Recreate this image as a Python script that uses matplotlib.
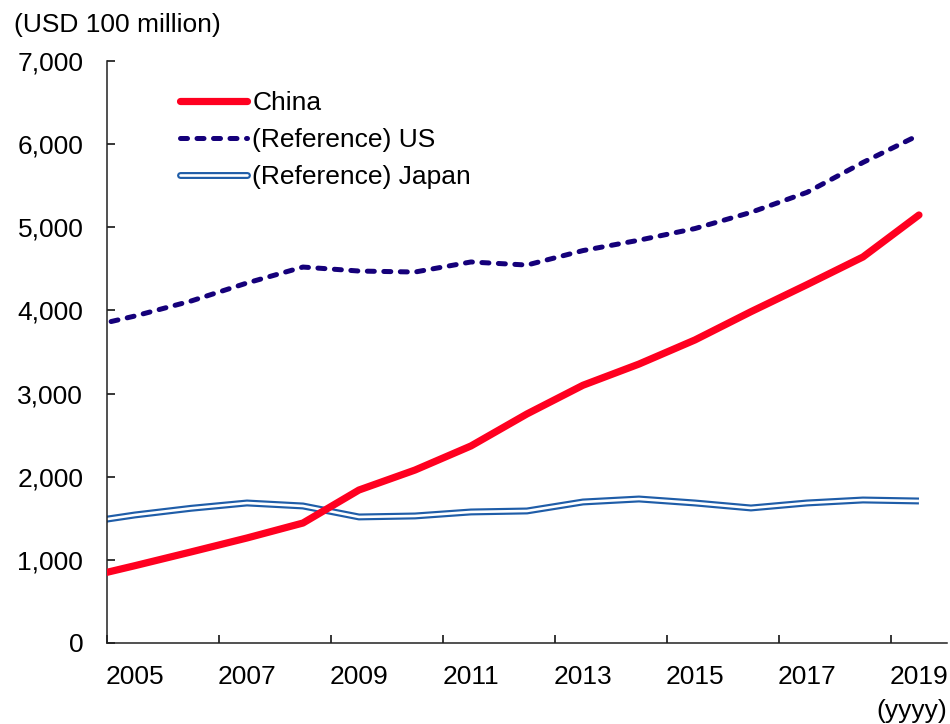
import numpy as np
import matplotlib
matplotlib.use("Agg")
import matplotlib.pyplot as plt
from matplotlib.ticker import FixedLocator, StrMethodFormatter
from matplotlib.lines import Line2D
from matplotlib.legend_handler import HandlerTuple

plt.rcParams['font.family'] = ['Liberation Sans', 'DejaVu Sans']

# annual values, USD 100 million (first year only partly on the axis)
years = np.arange(2004, 2020)
china = [770, 930, 1095, 1263, 1443, 1840, 2080, 2370, 2755, 3100,
         3355, 3645, 3985, 4310, 4643, 5148]
us = [3777, 3933, 4113, 4330, 4522, 4474, 4462, 4583, 4546, 4720,
      4845, 4985, 5180, 5420, 5780, 6110]
japan = [1440, 1540, 1620, 1684, 1648, 1516, 1528, 1576, 1588, 1696,
         1732, 1684, 1624, 1684, 1720, 1708]

red = '#FF0020'
navy = '#15007A'
blue = '#1F5DA8'
fs = 19

fig = plt.figure(figsize=(9.5, 7.24), dpi=100)
ax = fig.add_axes([0.1126, 0.1119, 0.8842, 0.8038])

# Japan: outlined double line
ax.plot(years, japan, color=blue, lw=5.0, solid_capstyle='butt', zorder=2)
ax.plot(years, japan, color='white', lw=1.9, solid_capstyle='butt', zorder=2.1)
ax.plot(years, us, color=navy, lw=3.6, dashes=(1.4, 1.9),
        dash_capstyle='round', zorder=3)
ax.plot(years, china, color=red, lw=5.2, solid_capstyle='round', zorder=4)

ax.set_xlim(2004.5, 2019.5)
ax.set_ylim(0, 7000)

ax.yaxis.set_major_locator(FixedLocator(np.arange(0, 7001, 1000)))
ax.yaxis.set_major_formatter(StrMethodFormatter('{x:,.0f}'))
ax.tick_params(axis='y', direction='in', length=6, width=1.1, pad=17, labelsize=fs)

ax.xaxis.set_major_locator(FixedLocator(np.arange(2005, 2020, 2)))
ax.xaxis.set_major_formatter(StrMethodFormatter('{x:.0f}'))
ax.xaxis.set_minor_locator(FixedLocator(np.arange(2004.5, 2019, 2)))
ax.tick_params(axis='x', which='major', length=0, pad=16, labelsize=fs)
ax.tick_params(axis='x', which='minor', direction='in', length=6, width=1.1)

for s in ['top', 'right']:
    ax.spines[s].set_visible(False)
for s in ['left', 'bottom']:
    ax.spines[s].set_linewidth(1.1)
    ax.spines[s].set_color('#222222')

fig.text(0.015, 0.966, '(USD 100 million)', fontsize=fs, ha='left', va='center')
fig.text(0.997, 0.018, '(yyyy)', fontsize=fs, ha='right', va='center')

leg_cn = Line2D([], [], color=red, lw=5.2, solid_capstyle='round')
leg_us = Line2D([], [], color=navy, lw=3.6, dashes=(1.4, 1.9), dash_capstyle='round')
leg_jp = (Line2D([], [], color=blue, lw=5.0, solid_capstyle='round'),
          Line2D([], [], color='white', lw=1.9, solid_capstyle='round'))
ax.legend([leg_cn, leg_us, leg_jp],
          ['China', '(Reference) US', '(Reference) Japan'],
          handler_map={tuple: HandlerTuple(ndivide=1)},
          loc='upper left', bbox_to_anchor=(0.074, 0.967), frameon=False,
          fontsize=fs, handlelength=2.55, handletextpad=0.2, labelspacing=0.5,
          borderaxespad=0)

fig.savefig('out.png', dpi=100)
